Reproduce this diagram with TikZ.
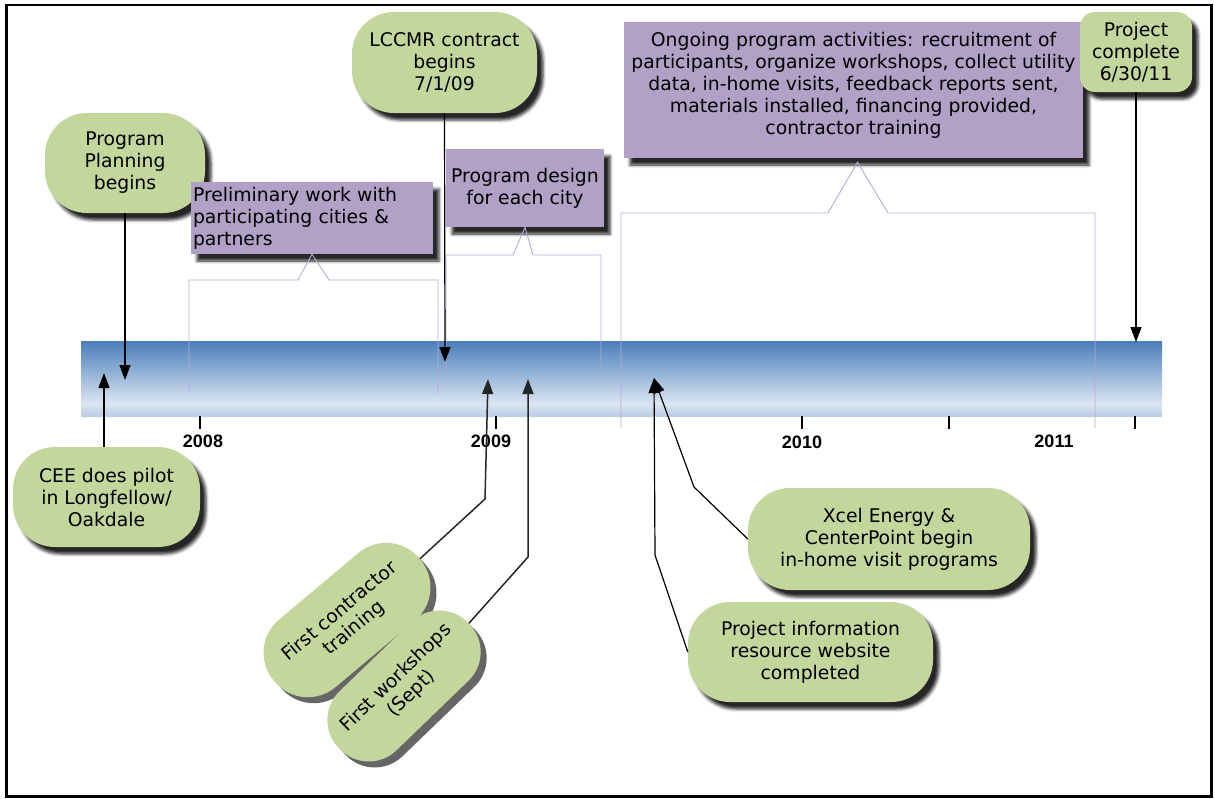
\documentclass[tikz,border=0pt]{standalone}
\usepackage{fontspec}
\setmainfont{DejaVu Sans}
\newfontfamily\yearfont{Liberation Sans}
\usetikzlibrary{arrows.meta,shadows.blur}
\definecolor{grn}{HTML}{C3D69B}
\definecolor{pur}{HTML}{B2A1C7}
\definecolor{brk}{HTML}{B8A9D4}
\definecolor{barA}{HTML}{4A7EBB}
\definecolor{barB}{HTML}{DCE6F2}
\definecolor{barC}{HTML}{B9CDE5}
\begin{document}
\begin{tikzpicture}[x=1pt,y=-1pt,
  every node/.style={font=\fontsize{18.8}{22}\selectfont, inner sep=0pt, align=center},
  shad/.style={blur shadow={shadow xshift=6pt, shadow yshift=-7pt, shadow blur radius=3pt, shadow opacity=85}},
  gbox/.style={fill=grn, rounded corners=#1, shad},
  gbox/.default=42pt,
  rbox/.style={fill=grn, rounded corners=40pt},
  rshadow/.style={fill=black!75, opacity=0.8, rounded corners=40pt},
  pbox/.style={fill=pur, shad},
  conn/.style={line width=1.2pt, -{Triangle[length=15pt,width=11pt]}},
  link/.style={line width=1.5pt, draw=black!85, -{Triangle[length=15pt,width=11pt]}},
  brack/.style={draw=brk, line width=0.9pt},
  tickmark/.style={line width=2.4pt},
  yr/.style={font=\yearfont\bfseries\fontsize{18}{20}\selectfont}
]
\useasboundingbox (0,0) rectangle (1215,798);
\draw[line width=2.7pt] (6.5,5) rectangle (1211.5,796.5);

% timeline bar
\shade[top color=barA, bottom color=barB] (81,341) rectangle (1162,404);
\shade[top color=barB, bottom color=barC] (81,403.5) rectangle (1162,416);

% ticks and years
\draw[tickmark] (200,416) -- (200,429);
\draw[tickmark] (496,416) -- (496,429);
\draw[tickmark] (802,416) -- (802,429);
\draw[tickmark] (949,416) -- (949,429);
\draw[tickmark] (1135,416) -- (1135,429);
\node[yr] (y2008) at (203,441) {2008};
\node[yr] (y2009) at (491,441) {2009};
\node[yr] (y2010) at (802,442) {2010};
\node[yr] (y2011) at (1054,441) {2011};

% green boxes (upper)
\node[gbox, minimum width=160pt, minimum height=100pt] (ppl) at (125,163) {Program\\Planning\\begins};
\node[gbox, minimum width=185pt, minimum height=101pt] (lccmr) at (444.5,62.5) {LCCMR contract\\begins\\7/1/09};

% purple boxes
\node[pbox, minimum height=72pt, text width=238pt, inner xsep=2pt, align=left] (prelim) at (312,218)
  {Preliminary work with\\participating cities \&\\partners};
\node[pbox, minimum width=158pt, minimum height=78pt] (pd) at (525,188)
  {Program design\\for each city};
\node[pbox, minimum width=459pt, minimum height=136pt] (ong) at (853.5,90) {};
\node[anchor=north] (ongt) at ([yshift=-10pt]ong.north)
  {Ongoing program activities: recruitment of\\participants, organize workshops, collect utility\\data, in-home visits, feedback reports sent,\\materials installed, financing provided,\\contractor training};
\node[gbox=15pt, minimum width=112pt, minimum height=80pt] (pc) at (1136,52) {Project\\complete\\6/30/11};

% brackets
\draw[brack] (189,392) -- (189,280) -- (298,280) -- (prelim.south) -- (329,280) -- (438,280) -- (438,393);
\draw[brack] (446,377) -- (446,255) -- (513,255) -- (pd.south) -- (533,255) -- (601,255) -- (601,377);
\draw[brack] (621,428) -- (621,213) -- (828,213) -- ([xshift=4pt,yshift=-4pt]ong.south) -- (888,213) -- (1095,213) -- (1095,428);

% green boxes (lower)
\node[gbox, minimum width=187pt, minimum height=100pt] (cee) at (106.5,497) {CEE does pilot\\in Longfellow/\\Oakdale};
\node[gbox, minimum width=282pt, minimum height=102pt] (xcel) at (889,539) {Xcel Energy \&\\CenterPoint begin\\in-home visit programs};
\node[gbox, minimum width=245pt, minimum height=100pt] (web) at (810.5,652) {Project information\\resource website\\completed};
\node[rshadow, rounded corners=43pt, minimum width=190pt, minimum height=88pt, rotate=40] (fcs) at (353,626) {};
\node[rbox, rounded corners=43pt, minimum width=190pt, minimum height=88pt, rotate=40] (fc) at (347,620) {First contractor\\training};
\node[rshadow, minimum width=180pt, minimum height=82pt, rotate=44] (fws) at (410,692) {};
\node[rbox, minimum width=180pt, minimum height=82pt, rotate=44] (fw) at (404,686) {First workshops\\(Sept)};

% arrow targets
\coordinate (tppl) at (125,380);
\coordinate (tcee) at (104,373);
\coordinate (tlcc) at (445,362);
\coordinate (tpc) at (1136,342);
\coordinate (tfc) at (488,379);
\coordinate (bfc) at (485,499);
\coordinate (tfw) at (528,379);
\coordinate (bfw) at (528,557);
\coordinate (tweb) at (654,378);
\coordinate (bx) at (694,487);
\coordinate (bw) at (655,555);

% connectors
\draw[conn] (ppl.south) -- (tppl);
\draw[conn] (cee.north -| tcee) -- (tcee);
\draw[conn] (lccmr.south) -- (tlcc);
\draw[conn] (pc.south) -- (tpc);
\draw[link] (fc.east) -- (bfc) -- (tfc);
\draw[link] (fw.east) -- (bfw) -- (tfw);
\draw[conn] (xcel.west) -- (bx) -- (tweb);
\draw[conn] (web.west) -- (bw) -- (tweb);
\end{tikzpicture}
\end{document}
